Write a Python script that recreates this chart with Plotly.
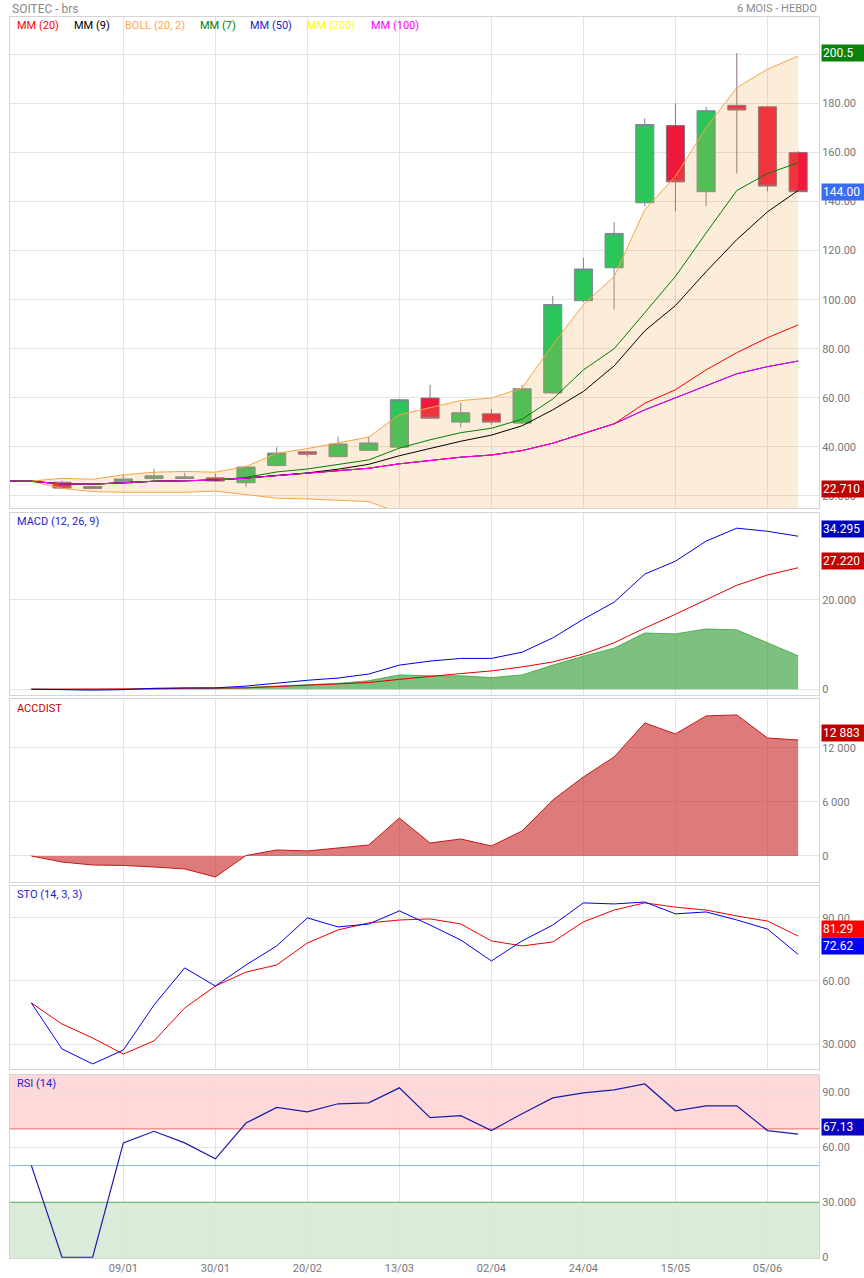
import plotly.graph_objects as go

# ---------------- data ----------------
week_idx = list(range(26))          # weekly candles
ma_idx = list(range(-1, 26))        # overlays start one week before first candle (clipped)
tick_idx = [3, 6, 9, 12, 15, 18, 21, 24]
tick_labels = ["09/01", "30/01", "20/02", "13/03", "02/04", "24/04", "15/05", "05/06"]

open_ = [26.3, 25.6, 23.8, 25.2, 27.1, 27.1, 27.4, 25.4, 32.4, 38.0, 36.0, 38.6, 39.9,
         59.9, 50.1, 53.5, 49.7, 62.0, 99.6, 113.0, 139.5, 171.0, 144.0, 179.2, 178.6, 160.0]
high_ = [26.5, 26.2, 24.0, 28.9, 31.0, 29.5, 29.1, 32.2, 39.9, 38.3, 44.2, 44.2, 59.5,
         65.3, 58.1, 55.5, 65.3, 101.5, 117.0, 131.7, 173.9, 180.0, 178.6, 200.5, 179.0, 160.5]
low_ = [25.8, 23.0, 22.71, 25.0, 26.5, 26.9, 25.9, 23.8, 32.0, 36.0, 35.8, 38.4, 39.6,
        51.5, 47.9, 49.0, 49.3, 61.5, 99.0, 96.0, 138.0, 136.0, 138.0, 151.4, 144.2, 144.0]
close_ = [25.9, 23.2, 23.1, 26.9, 28.2, 27.8, 26.1, 31.8, 37.5, 37.0, 41.2, 41.6, 59.2,
          51.7, 53.9, 50.1, 63.7, 98.0, 112.5, 127.0, 171.4, 148.0, 177.0, 177.3, 146.3, 144.0]

# MM(50), MM(100) and MM(200) overlap completely in the picture
mm_long = [26.1, 26.0, 24.9, 24.8, 25.4, 26.0, 26.2, 26.5, 27.3, 28.3, 29.2, 30.2, 31.3, 33.1,
           34.4, 35.8, 36.7, 38.5, 41.5, 45.3, 49.4, 55.1, 60.0, 64.9, 69.8, 72.7, 75.0]
mm20 = [26.1, 26.0, 24.9, 24.8, 25.4, 26.0, 26.2, 26.5, 27.3, 28.3, 29.2, 30.2, 31.3, 33.1,
        34.4, 35.8, 36.7, 38.5, 41.5, 45.3, 49.4, 57.8, 63.3, 71.4, 78.4, 84.5, 89.7]
mm9 = [26.1, 26.0, 24.9, 24.8, 25.4, 26.0, 26.2, 26.5, 27.3, 28.3, 29.4, 30.9, 32.9, 36.4,
       39.4, 42.3, 44.8, 48.6, 55.1, 62.6, 73.0, 87.3, 97.6, 111.4, 124.5, 135.8, 144.5]
mm7 = [26.1, 26.0, 24.9, 24.8, 25.4, 26.0, 26.2, 26.5, 27.6, 29.8, 31.0, 32.7, 34.7, 39.5,
       42.9, 45.8, 47.6, 51.3, 59.5, 71.4, 80.0, 94.7, 109.5, 127.2, 144.5, 151.4, 155.8]
boll_up = [26.1, 26.1, 27.2, 26.8, 28.6, 29.7, 30.0, 29.7, 32.0, 37.4, 39.3, 41.5, 44.0, 53.1,
           56.1, 58.9, 59.9, 64.0, 81.6, 98.0, 109.4, 136.7, 150.3, 170.1, 186.4, 193.9, 199.3]
boll_lo = [26.1, 26.0, 23.1, 21.8, 21.5, 21.4, 21.5, 22.0, 20.4, 19.1, 18.8, 18.1, 17.7, 13.1,
           12.7, 12.7, 13.5, 13.0, 1.4, -7.4, -10.6, -21.5, -23.7, -27.3, -29.6, -24.9, -19.9]

macd = [0.0, -0.1, -0.2, -0.1, 0.2, 0.3, 0.3, 0.7, 1.4, 2.0, 2.5, 3.4, 5.4, 6.3, 6.9, 6.9,
        8.3, 11.5, 15.7, 19.5, 25.8, 28.7, 33.2, 36.1, 35.4, 34.295]
macd_signal = [0.0, 0.0, -0.05, -0.05, 0.1, 0.2, 0.2, 0.3, 0.6, 0.85, 1.2, 1.5, 2.2, 2.9, 3.5,
               4.1, 5.0, 6.1, 7.9, 10.4, 13.7, 16.8, 20.0, 23.3, 25.6, 27.22]
macd_hist = [0.0, -0.1, -0.15, -0.05, 0.1, 0.1, 0.1, 0.4, 0.8, 1.15, 1.3, 1.9, 3.2, 3.0, 3.0,
             2.6, 3.2, 5.4, 7.4, 9.2, 12.6, 12.4, 13.5, 13.3, 10.4, 7.5]

accdist = [0, -670, -1000, -1050, -1220, -1440, -2330, 50, 670, 560, 890, 1220, 4220, 1440,
           1890, 1110, 2780, 6220, 8780, 11000, 14780, 13560, 15560, 15670, 13110, 12883]

sto_k = [49.6, 27.8, 20.7, 27.3, 48.6, 66.2, 57.6, 67.6, 76.6, 89.9, 85.6, 87.0, 93.2, 86.5,
         79.4, 69.5, 79.0, 86.5, 97.0, 96.5, 97.4, 91.8, 92.7, 88.9, 84.6, 72.62]
sto_d = [49.6, 39.6, 33.0, 25.4, 31.6, 47.2, 57.6, 64.2, 67.6, 78.0, 84.2, 87.5, 88.9, 89.4,
         87.0, 79.0, 76.6, 78.5, 88.0, 93.6, 97.0, 95.0, 93.6, 90.8, 88.4, 81.29]

rsi = [50.1, 0.0, 0.0, 62.4, 68.7, 62.4, 53.7, 73.2, 81.7, 79.3, 83.7, 84.2, 92.4, 76.1, 77.2,
       69.1, 78.3, 86.9, 89.6, 91.3, 94.5, 79.9, 82.6, 82.6, 69.1, 67.13]
rsi_levels = [70, 50, 30]            # overbought / middle / oversold lines
rsi_level_colors = ["#e86a6a", "#7fb8f5", "#5aa65a"]

# ---------------- layout helpers ----------------
W, H = 864, 1278
ML, MR, MT, MB = 10, 45, 17, 20
PH = H - MT - MB
PW = W - ML - MR
XR = [-0.695, 25.68]


def py(pix):
    return (H - MB - pix) / PH


def px(pix):
    return (pix - ML) / PW


FONT = "Roboto"
GRID = "#e3e3e3"
BORDER = "#d4d4d4"
TICKFONT = dict(family=FONT, size=11, color="#777777")

fig = go.Figure()

# main panel
fig.add_trace(go.Candlestick(
    x=week_idx, open=open_, high=high_, low=low_, close=close_,
    increasing=dict(fillcolor="#2cc55a", line=dict(color="#7b8794", width=1)),
    decreasing=dict(fillcolor="#f0193c", line=dict(color="#8a7080", width=1)),
    whiskerwidth=0, showlegend=False, hoverinfo="skip", xaxis="x", yaxis="y"))
fig.add_trace(go.Scatter(x=ma_idx, y=boll_up, mode="lines", line=dict(color="#f7a545", width=1),
                         showlegend=False, xaxis="x", yaxis="y"))
fig.add_trace(go.Scatter(x=ma_idx, y=boll_lo, mode="lines", line=dict(color="#f7a545", width=1),
                         fill="tonexty", fillcolor="rgba(240,160,70,0.2)",
                         showlegend=False, xaxis="x", yaxis="y"))
for vals, col in [(mm_long, "#ffff00"), (mm_long, "#0000ff"), (mm20, "#ff0000"),
                  (mm9, "#000000"), (mm7, "#008000"), (mm_long, "#ff00ff")]:
    fig.add_trace(go.Scatter(x=ma_idx, y=vals, mode="lines", line=dict(color=col, width=1),
                             showlegend=False, xaxis="x", yaxis="y"))

# MACD
fig.add_trace(go.Scatter(x=week_idx, y=macd_hist, mode="lines", fill="tozeroy",
                         fillcolor="rgba(40,150,40,0.6)", line=dict(color="rgba(60,160,60,0.8)", width=1),
                         showlegend=False, xaxis="x2", yaxis="y2"))
fig.add_trace(go.Scatter(x=week_idx, y=macd_signal, mode="lines", line=dict(color="#dd0000", width=1),
                         showlegend=False, xaxis="x2", yaxis="y2"))
fig.add_trace(go.Scatter(x=week_idx, y=macd, mode="lines", line=dict(color="#0000dd", width=1),
                         showlegend=False, xaxis="x2", yaxis="y2"))

# ACCDIST
fig.add_trace(go.Scatter(x=week_idx, y=accdist, mode="lines", fill="tozeroy",
                         fillcolor="rgba(200,40,40,0.62)", line=dict(color="#c81818", width=1),
                         showlegend=False, xaxis="x3", yaxis="y3"))

# STO
fig.add_trace(go.Scatter(x=week_idx, y=sto_d, mode="lines", line=dict(color="#ee0000", width=1),
                         showlegend=False, xaxis="x4", yaxis="y4"))
fig.add_trace(go.Scatter(x=week_idx, y=sto_k, mode="lines", line=dict(color="#0000ee", width=1),
                         showlegend=False, xaxis="x4", yaxis="y4"))

# RSI reference levels, then RSI
for lvl, col in zip(rsi_levels, rsi_level_colors):
    fig.add_trace(go.Scatter(x=XR, y=[lvl, lvl], mode="lines", line=dict(color=col, width=1),
                             showlegend=False, xaxis="x5", yaxis="y5"))
fig.add_trace(go.Scatter(x=week_idx, y=rsi, mode="lines", line=dict(color="#1a1aa8", width=1.2),
                         showlegend=False, xaxis="x5", yaxis="y5"))

# ---------------- axes ----------------
domains = {
    1: [py(508), py(MT)],
    2: [py(695), py(513)],
    3: [py(882), py(699)],
    4: [py(1069), py(886)],
    5: [0.0, py(1075)],
}
yranges = {1: [15.1, 215.2], 2: [-1.3, 39.5], 3: [-2890, 17440], 4: [18.3, 105.0], 5: [-0.4, 99.4]}
yticks = {
    1: ([20, 40, 60, 80, 100, 120, 140, 160, 180, 200],
        ["20.000", "40.000", "60.00", "80.00", "100.00", "120.00", "140.00", "160.00", "180.00", "200.00"]),
    2: ([0, 20], ["0", "20.000"]),
    3: ([0, 6000, 12000], ["0", "6 000", "12 000"]),
    4: ([30, 60, 90], ["30.000", "60.00", "90.00"]),
    5: ([0, 30, 60, 90], ["0", "30.000", "60.00", "90.00"]),
}

layout = dict(width=W, height=H, autosize=False,
              margin=dict(l=ML, r=MR, t=MT, b=MB, pad=0, autoexpand=False),
              paper_bgcolor="white", plot_bgcolor="white",
              font=dict(family=FONT), showlegend=False, hovermode=False,
              boxgap=0.41, boxgroupgap=0.0)

for n in range(1, 6):
    sx = "" if n == 1 else str(n)
    layout["xaxis" + sx] = dict(
        range=XR, tickvals=tick_idx, ticktext=tick_labels,
        showgrid=True, gridcolor=GRID, gridwidth=1, zeroline=False,
        showline=True, mirror=True, linecolor=BORDER, linewidth=1,
        showticklabels=(n == 5), tickfont=TICKFONT, ticks="",
        anchor="y" + sx, rangeslider=dict(visible=False), fixedrange=True, automargin=False)
    layout["yaxis" + sx] = dict(
        domain=domains[n], range=yranges[n], side="right",
        tickvals=yticks[n][0], ticktext=yticks[n][1], tickfont=TICKFONT, ticks="",
        showgrid=True, gridcolor=GRID, gridwidth=1, zeroline=False,
        showline=True, mirror=True, linecolor=BORDER, linewidth=1,
        anchor="x" + sx, fixedrange=True, automargin=False)

# RSI zones
layout["shapes"] = [
    dict(type="rect", xref="x5 domain", yref="y5", x0=0, x1=1, y0=70, y1=99.4,
         fillcolor="#ffd9d9", line=dict(width=0), layer="below"),
    dict(type="rect", xref="x5 domain", yref="y5", x0=0, x1=1, y0=-0.4, y1=30,
         fillcolor="#d9ebd9", line=dict(width=0), layer="below"),
]

ann = []
# header
ann.append(dict(text="SOITEC - brs", x=px(10), y=py(9), xref="paper", yref="paper",
                xanchor="left", yanchor="middle", showarrow=False,
                font=dict(family=FONT, size=12, color="#8a8a8a")))
ann.append(dict(text="6 MOIS - HEBDO", x=px(819), y=py(9), xref="paper", yref="paper",
                xanchor="right", yanchor="middle", showarrow=False,
                font=dict(family=FONT, size=11, color="#8a8a8a")))
# legend of main panel
legend_items = [("MM (20)", "#ff0000", 15), ("MM (9)", "#000000", 72), ("BOLL (20, 2)", "#ffa550", 123),
                ("MM (7)", "#008000", 198), ("MM (50)", "#2222cc", 248), ("MM (200)", "#ffff00", 305),
                ("MM (100)", "#ff00ff", 369)]
for txt, col, xp in legend_items:
    ann.append(dict(text=txt, x=px(xp), y=py(25), xref="paper", yref="paper",
                    xanchor="left", yanchor="middle", showarrow=False,
                    font=dict(family=FONT, size=11, color=col)))
# panel titles
for txt, col, yp in [("MACD (12, 26, 9)", "#2222cc", 521), ("ACCDIST", "#c00000", 708),
                     ("STO (14, 3, 3)", "#2222cc", 895), ("RSI (14)", "#2222cc", 1083)]:
    ann.append(dict(text=txt, x=px(15), y=py(yp), xref="paper", yref="paper",
                    xanchor="left", yanchor="middle", showarrow=False,
                    font=dict(family=FONT, size=11, color=col)))

# value labels on the right
value_labels = [
    ("200.5", high_[23], "y", "#0b820b", 0),
    ("144.00", close_[25], "y", "#3a6cf4", 0),
    ("22.710", low_[2], "y", "#c00000", 0),
    ("34.295", macd[25], "y2", "#0000c0", 7),
    ("27.220", macd_signal[25], "y2", "#c80000", 7),
    ("12 883", accdist[25], "y3", "#c00000", 7),
    ("81.29", sto_d[25], "y4", "#ff0000", 7),
    ("72.62", sto_k[25], "y4", "#0000ff", 8),
    ("67.13", rsi[25], "y5", "#0a00c0", 7),
]
for txt, val, yr, bg, sh in value_labels:
    ann.append(dict(text=txt, x=px(821), y=val, xref="paper", yref=yr,
                    xanchor="left", yanchor="middle", yshift=sh, showarrow=False,
                    bgcolor=bg, borderpad=1, width=41, align="left",
                    font=dict(family=FONT, size=12, color="white")))
layout["annotations"] = ann

fig.update_layout(**layout)
fig.write_html("out.html", config={"displayModeBar": False})
